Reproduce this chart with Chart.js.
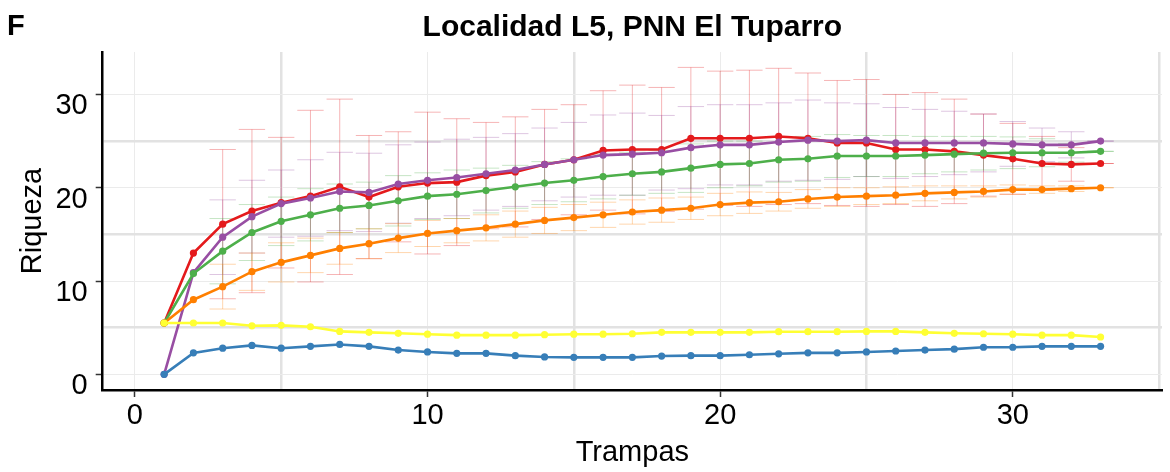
<!DOCTYPE html>
<html>
<head>
<meta charset="utf-8">
<script src="https://cdn.jsdelivr.net/npm/chart.js@4/dist/chart.umd.min.js"></script>
<style>
  html, body { margin: 0; padding: 0; background: #fff; }
  #wrap { width: 1170px; height: 472px; }
</style>
</head>
<body>
<div id="wrap"><canvas id="curvaChart" width="1170" height="472"></canvas></div>
<script>
/* ==========================
   DATOS
   ==========================*/
const trampas = [1,2,3,4,5,6,7,8,9,10,11,12,13,14,15,16,17,18,19,20,21,22,23,24,25,26,27,28,29,30,31,32,33];

const rojo    = [5.5,13.0,16.1,17.5,18.4,19.1,20.1,19.0,20.1,20.5,20.6,21.3,21.7,22.5,23.0,24.0,24.1,24.1,25.3,25.3,25.3,25.5,25.3,24.8,24.8,24.1,24.1,23.9,23.5,23.1,22.6,22.5,22.6];
const morado  = [0,10.9,14.7,16.9,18.3,18.9,19.6,19.5,20.4,20.8,21.1,21.5,21.9,22.5,23.0,23.5,23.6,23.75,24.3,24.6,24.6,24.9,25.1,25.0,25.1,24.8,24.8,24.8,24.8,24.7,24.6,24.6,25.0];
const verde   = [5.5,10.8,13.2,15.2,16.4,17.1,17.8,18.1,18.6,19.1,19.3,19.7,20.1,20.5,20.8,21.2,21.5,21.7,22.1,22.5,22.6,23.0,23.1,23.4,23.4,23.4,23.5,23.6,23.7,23.75,23.75,23.75,23.9];
const naranja = [5.5,8.0,9.4,11.0,12.0,12.75,13.5,14.0,14.6,15.1,15.4,15.7,16.1,16.5,16.8,17.1,17.4,17.6,17.8,18.2,18.4,18.5,18.8,19.0,19.1,19.2,19.4,19.5,19.6,19.8,19.8,19.9,20.0];
const amarillo= [5.5,5.5,5.5,5.2,5.25,5.1,4.6,4.5,4.4,4.3,4.2,4.2,4.2,4.25,4.3,4.3,4.35,4.5,4.5,4.5,4.5,4.57,4.57,4.57,4.6,4.6,4.5,4.4,4.35,4.3,4.2,4.2,4.0];
const azul    = [0,2.3,2.8,3.1,2.8,3.0,3.2,3.0,2.6,2.4,2.25,2.25,2.0,1.86,1.82,1.82,1.82,1.96,2.0,2.0,2.1,2.2,2.3,2.3,2.4,2.5,2.6,2.7,2.9,2.9,3.0,3.0,3.0];

// desviaciones (null = sin barra)
const rojoSd    = [null,null,8.0,8.75,7.0,9.2,9.4,6.6,5.9,7.6,6.8,5.7,5.9,5.9,5.9,6.4,6.9,6.65,7.6,7.2,7.3,7.3,7.0,6.7,6.8,5.9,6.1,5.6,4.4,3.8,2.9,1.8,0];
const moradoSd  = [null,null,4.0,3.9,3.6,4.1,4.2,4.2,4.2,4.1,4.1,3.9,3.9,3.9,4.0,4.3,4.4,4.0,4.4,4.3,4.3,4.2,4.3,4.1,3.9,3.8,3.6,3.4,3.1,2.4,1.8,1.4,0];
const verdeSd   = [null,null,3.5,3.0,2.6,2.8,2.6,2.5,2.7,2.5,2.6,2.4,2.3,2.3,2.3,2.4,2.3,2.3,2.6,2.5,2.4,2.4,2.4,2.3,2.2,2.2,2.0,1.9,1.8,1.7,1.5,1.0,0];
const naranjaSd = [null,null,2.4,2.0,2.1,1.85,1.7,1.6,1.55,1.4,1.3,1.4,1.4,1.4,1.4,1.35,1.3,1.3,1.2,1.2,1.15,1.0,1.0,1.0,0.9,0.9,0.8,0.7,0.6,0.5,0.4,0.3,0];

const ticksX = [0,5,10,15,20,25,30,35];
const ticksY = [0,5,10,15,20,25,30];

const FONT = '"Liberation Sans", Arial, sans-serif';

function serie(nombre, valores, sd, color, orden) {
  return {
    label: nombre,
    data: trampas.map((t, i) => ({ x: t, y: valores[i] })),
    sd: sd,
    borderColor: color,
    backgroundColor: color,
    borderWidth: 2.6,
    pointRadius: 3.6,
    pointBorderWidth: 0,
    pointBackgroundColor: color,
    tension: 0,
    order: orden
  };
}

/* barras de error, debajo de las lineas */
const barrasError = {
  id: 'barrasError',
  beforeDatasetsDraw(chart) {
    const { ctx, chartArea, scales: { x, y } } = chart;
    ctx.save();
    ctx.beginPath();
    ctx.rect(chartArea.left, chartArea.top, chartArea.right - chartArea.left, chartArea.bottom - chartArea.top);
    ctx.clip();
    ctx.lineWidth = 1;
    chart.data.datasets.forEach(ds => {
      if (!ds.sd) return;
      ctx.strokeStyle = ds.errColor;
      ds.data.forEach((p, i) => {
        const s = ds.sd[i];
        if (s === null || s === undefined) return;
        const px = x.getPixelForValue(p.x);
        const x0 = x.getPixelForValue(p.x - 0.45);
        const x1 = x.getPixelForValue(p.x + 0.45);
        const yt = y.getPixelForValue(p.y + s);
        const yb = y.getPixelForValue(p.y - s);
        ctx.beginPath();
        ctx.moveTo(px, yt); ctx.lineTo(px, yb);
        ctx.moveTo(x0, yt); ctx.lineTo(x1, yt);
        ctx.moveTo(x0, yb); ctx.lineTo(x1, yb);
        ctx.stroke();
      });
    });
    ctx.restore();
  }
};

const letraPanel = {
  id: 'letraPanel',
  afterDraw(chart) {
    const ctx = chart.ctx;
    ctx.save();
    ctx.fillStyle = '#000';
    ctx.font = 'bold 29px ' + FONT;
    ctx.textBaseline = 'alphabetic';
    ctx.fillText('F', 7, 35);
    ctx.restore();
  }
};

const dsRojo = serie('Rojo', rojo, rojoSd, '#E41A1C', 5);
dsRojo.errColor = 'rgba(228,26,28,0.32)';
const dsMorado = serie('Morado', morado, moradoSd, '#984EA3', 4);
dsMorado.errColor = 'rgba(152,78,163,0.32)';
const dsVerde = serie('Verde', verde, verdeSd, '#4DAF4A', 3);
dsVerde.errColor = 'rgba(77,175,74,0.32)';
const dsNaranja = serie('Naranja', naranja, naranjaSd, '#FF7F00', 2);
dsNaranja.errColor = 'rgba(255,127,0,0.32)';
const dsAmarillo = serie('Amarillo', amarillo, null, '#FFFF33', 1);
const dsAzul = serie('Azul', azul, null, '#377EB8', 0);

function gridColor(ctx) {
  return ctx.tick && ctx.tick.value % 10 === 0 ? '#EBEBEB' : '#E2E2E2';
}
function gridWidth(ctx) {
  return ctx.tick && ctx.tick.value % 10 === 0 ? 1 : 2.5;
}
function tickColor(ctx) {
  return ctx.tick && ctx.tick.value % 10 === 0 ? '#333' : 'rgba(0,0,0,0)';
}

new Chart(document.getElementById('curvaChart').getContext('2d'), {
  type: 'line',
  data: { datasets: [dsRojo, dsMorado, dsVerde, dsNaranja, dsAmarillo, dsAzul] },
  options: {
    responsive: false,
    animation: false,
    layout: { padding: { left: 0, right: 8, top: 0, bottom: 0 } },
    plugins: {
      legend: { display: false },
      tooltip: { enabled: false },
      title: {
        display: true,
        fullSize: false,
        text: 'Localidad L5, PNN El Tuparro',
        color: '#000',
        font: { family: FONT, size: 30, weight: 'bold', lineHeight: 1.2 },
        padding: { top: 10, bottom: 6 }
      }
    },
    scales: {
      x: {
        type: 'linear',
        min: -1.1,
        max: 35.1,
        afterBuildTicks: s => { s.ticks = ticksX.map(v => ({ value: v })); },
        afterFit: s => { s.height = 82; },
        ticks: {
          color: '#000',
          font: { family: FONT, size: 29 },
          padding: 2,
          maxRotation: 0,
          autoSkip: false,
          callback: v => (v % 10 === 0 ? String(v) : '')
        },
        grid: { color: gridColor, lineWidth: gridWidth, tickColor: tickColor, tickLength: 7, tickWidth: 1.5 },
        border: { display: true, color: '#000', width: 2.5 },
        title: {
          display: true,
          text: 'Trampas',
          color: '#000',
          font: { family: FONT, size: 29, lineHeight: 1.2 },
          padding: { top: 0, bottom: 2 }
        }
      },
      y: {
        type: 'linear',
        min: -1.68,
        max: 34.55,
        afterBuildTicks: s => { s.ticks = ticksY.map(v => ({ value: v })); },
        afterFit: s => { s.width = 102.7; },
        ticks: {
          color: '#000',
          font: { family: FONT, size: 29 },
          padding: 8,
          labelOffset: 12,
          autoSkip: false,
          callback: v => (v % 10 === 0 ? String(v) : '')
        },
        grid: { color: gridColor, lineWidth: gridWidth, tickColor: tickColor, tickLength: 7, tickWidth: 1.5 },
        border: { display: true, color: '#000', width: 2.5 },
        title: {
          display: true,
          text: 'Riqueza',
          color: '#000',
          font: { family: FONT, size: 29, lineHeight: 1.2 },
          padding: { top: 16, bottom: 0 }
        }
      }
    }
  },
  plugins: [barrasError, letraPanel]
});
</script>
</body>
</html>
